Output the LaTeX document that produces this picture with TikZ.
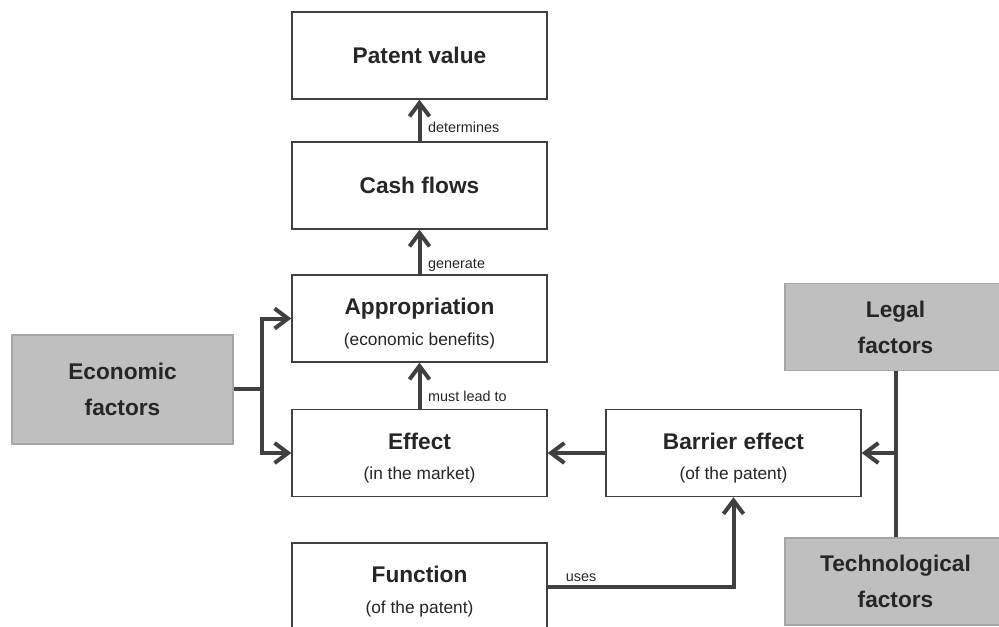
\documentclass[tikz,border=0pt]{standalone}
\usepackage{fontspec}
\setmainfont{Liberation Sans}
\usetikzlibrary{arrows.meta}
\definecolor{txt}{HTML}{262626}
\definecolor{bord}{HTML}{404040}
\definecolor{arrc}{HTML}{404040}
\definecolor{gfill}{HTML}{BFBFBF}
\definecolor{gbord}{HTML}{A6A6A6}
\newcommand\tfnt{\fontsize{17}{20}\selectfont\bfseries}
\newcommand\sfnt{\fontsize{13}{15}\selectfont}
\newcommand\lfnt{\fontsize{10.8}{13}\selectfont}
\newcommand\topstrut{\rule{0pt}{20pt}}
\begin{document}
\begin{tikzpicture}[x=0.75pt,y=-0.75pt,
  wbox/.style={draw=bord, line width=1.1pt, fill=white, minimum width=191.25pt, minimum height=65.25pt, inner sep=0pt, align=center, text=txt, font=\sfnt},
  gbox/.style={draw=gbord, line width=0.8pt, fill=gfill, minimum width=165.75pt, minimum height=65.25pt, inner sep=0pt, align=center, text=txt, font=\tfnt},
  arr/.style={draw=arrc, line width=3pt, -{Straight Barb[length=10pt,width=15pt]}},
  conn/.style={draw=arrc, line width=3pt},
  lbl/.style={font=\lfnt, text=txt, inner sep=2pt}]
\useasboundingbox (0,0) rectangle (999,627);
\clip (0,0) rectangle (999,627);
\node[wbox] (pv) at (419.5,55.5) {\tfnt Patent value};
\node[wbox] (cf) at (419.5,185.5) {\tfnt Cash flows};
\node[wbox] (ap) at (419.5,318.5) {\topstrut{\tfnt Appropriation}\\[8pt](economic benefits)};
\node[wbox] (ef) at (419.5,453) {\topstrut{\tfnt Effect}\\[8pt](in the market)};
\node[wbox] (fn) at (419.5,586.5) {\topstrut{\tfnt Function}\\[8pt](of the patent)};
\node[wbox] (be) at (733.5,453) {\topstrut{\tfnt Barrier effect}\\[8pt](of the patent)};
\node[gbox, minimum height=81.75pt] (ec) at (122.5,389.5) {Economic\\[7pt]factors};
\node[gbox] (lg) at (895.5,327) {Legal\\[7pt]factors};
\node[gbox] (tc) at (895.5,581.5) {Technological\\[7pt]factors};
% connectors
\draw[arr] (cf) -- node[lbl, pos=0.33, anchor=west, xshift=3pt]{determines} (pv);
\draw[arr] (ap) -- node[lbl, pos=0.2, anchor=west, xshift=3pt]{generate} (cf);
\draw[arr] (ef) -- node[lbl, pos=0.28, anchor=west, xshift=3pt]{must lead to} (ap);
\coordinate (j) at (262,388.5);
\draw[conn] (ec.east |- j) -- (j);
\draw[arr] (j) |- (ap.west);
\draw[arr] (j) |- (ef.west);
\draw[arr] (be) -- (ef);
\coordinate (k) at (895.5,453);
\draw[conn] (lg) -- (tc);
\draw[arr] (k) -- (be);
\draw[arr] (fn.east) -| node[lbl, pos=0.09, above]{uses} (be.south);
\end{tikzpicture}
\end{document}
